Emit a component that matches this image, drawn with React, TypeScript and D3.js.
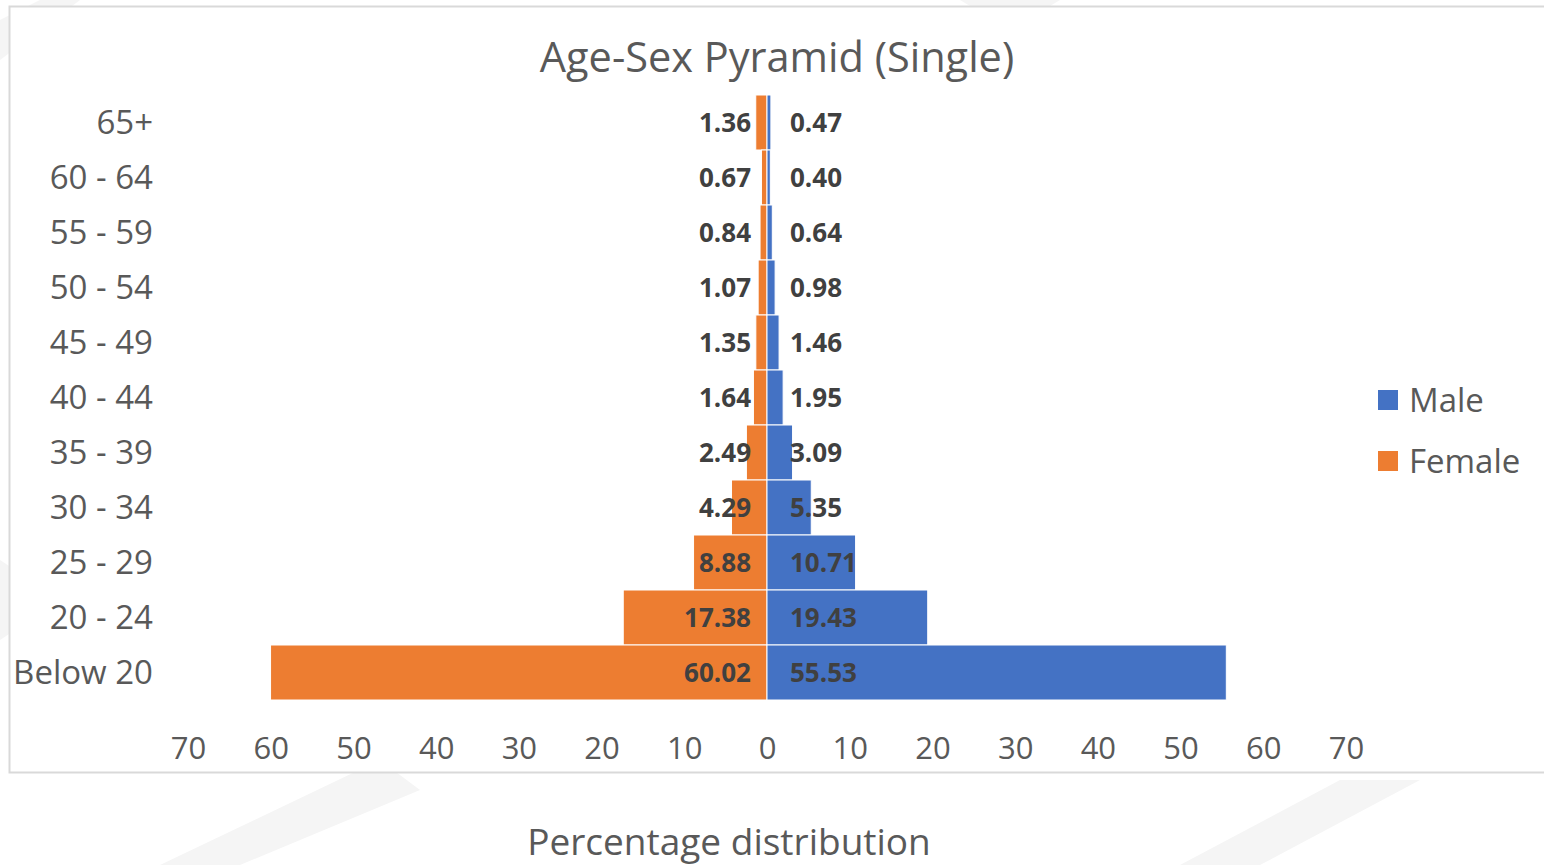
import React, { useEffect, useRef } from "react";
import * as d3 from "d3";

const ageGroups = [
    "65+",
    "60 - 64",
    "55 - 59",
    "50 - 54",
    "45 - 49",
    "40 - 44",
    "35 - 39",
    "30 - 34",
    "25 - 29",
    "20 - 24",
    "Below 20",
];
const maleValues = [0.47, 0.4, 0.64, 0.98, 1.46, 1.95, 3.09, 5.35, 10.71, 19.43, 55.53];
const femaleValues = [1.36, 0.67, 0.84, 1.07, 1.35, 1.64, 2.49, 4.29, 8.88, 17.38, 60.02];
const tickValues = [-70, -60, -50, -40, -30, -20, -10, 0, 10, 20, 30, 40, 50, 60, 70];
const seriesNames = ["Male", "Female"];

const MALE = "#4472c4";
const FEMALE = "#ed7d31";
const TEXT = "#595959";
const FONT = "'Open Sans', sans-serif";

const App = () => {
    const svgRef = useRef<SVGSVGElement>(null);

    useEffect(() => {
        const width = 1544;
        const height = 865;

        d3.select(svgRef.current).selectAll("*").remove();

        const svg = d3
            .select(svgRef.current)
            .attr("width", width)
            .attr("height", height)
            .style("font-family", FONT);

        svg.append("rect")
            .attr("width", width)
            .attr("height", height)
            .attr("fill", "#ffffff");

        // faint background watermark shapes
        const marks = [
            "M0,20 L40,0 L80,0 L0,60 Z",
            "M0,560 L60,600 L0,640 Z",
            "M160,865 L380,760 L420,790 L240,865 Z",
            "M1180,865 L1340,780 L1420,780 L1260,865 Z",
            "M960,0 L1010,30 L1060,0 Z",
        ];
        svg.selectAll("path.wm")
            .data(marks)
            .join("path")
            .attr("class", "wm")
            .attr("d", (d) => d)
            .attr("fill", "#f5f5f5");

        // chart frame
        svg.append("rect")
            .attr("x", 9.5)
            .attr("y", 6.5)
            .attr("width", 1560)
            .attr("height", 766)
            .attr("fill", "#ffffff")
            .attr("stroke", "#d9d9d9")
            .attr("stroke-width", 2);

        const x = d3.scaleLinear().domain([-70, 70]).range([188, 1346]);
        const y = d3
            .scaleBand()
            .domain(ageGroups)
            .range([95, 700])
            .padding(0);

        // title
        svg.append("text")
            .attr("x", 777)
            .attr("y", 72)
            .attr("text-anchor", "middle")
            .attr("font-size", 41.5)
            .attr("fill", TEXT)
            .text("Age-Sex Pyramid (Single)");

        // female bars (left)
        svg.selectAll("rect.female")
            .data(femaleValues)
            .join("rect")
            .attr("class", "female")
            .attr("x", (d) => x(-d))
            .attr("y", (d, i) => y(ageGroups[i]))
            .attr("width", (d) => x(0) - x(-d))
            .attr("height", y.bandwidth())
            .attr("fill", FEMALE)
            .attr("stroke", "#ffffff")
            .attr("stroke-width", 1);

        // male bars (right)
        svg.selectAll("rect.male")
            .data(maleValues)
            .join("rect")
            .attr("class", "male")
            .attr("x", x(0))
            .attr("y", (d, i) => y(ageGroups[i]))
            .attr("width", (d) => x(d) - x(0))
            .attr("height", y.bandwidth())
            .attr("fill", MALE)
            .attr("stroke", "#ffffff")
            .attr("stroke-width", 1);

        // data labels
        svg.selectAll("text.flab")
            .data(femaleValues)
            .join("text")
            .attr("class", "flab")
            .attr("x", x(0) - 16)
            .attr("y", (d, i) => y(ageGroups[i]) + y.bandwidth() / 2 + 9)
            .attr("text-anchor", "end")
            .attr("font-size", 26)
            .attr("font-weight", "bold")
            .attr("fill", "#404040")
            .text((d) => d.toFixed(2));

        svg.selectAll("text.mlab")
            .data(maleValues)
            .join("text")
            .attr("class", "mlab")
            .attr("x", x(0) + 23)
            .attr("y", (d, i) => y(ageGroups[i]) + y.bandwidth() / 2 + 9)
            .attr("text-anchor", "start")
            .attr("font-size", 26)
            .attr("font-weight", "bold")
            .attr("fill", "#404040")
            .text((d) => d.toFixed(2));

        // category axis labels
        svg.selectAll("text.cat")
            .data(ageGroups)
            .join("text")
            .attr("class", "cat")
            .attr("x", 153)
            .attr("y", (d) => y(d) + y.bandwidth() / 2 + 11)
            .attr("text-anchor", "end")
            .attr("font-size", 33)
            .attr("fill", TEXT)
            .text((d) => d);

        // value axis
        const xAxis = svg
            .append("g")
            .attr("transform", "translate(0,730)")
            .call(
                d3
                    .axisBottom(x)
                    .tickValues(tickValues)
                    .tickSize(0)
                    .tickFormat((d) => String(Math.abs(d as number)))
            );
        xAxis.select(".domain").remove();
        xAxis.selectAll("text")
            .attr("font-family", FONT)
            .attr("font-size", 31)
            .attr("fill", TEXT)
            .attr("dy", "0.95em")
            .attr("y", 0);

        // axis title
        svg.append("text")
            .attr("x", 729)
            .attr("y", 855)
            .attr("text-anchor", "middle")
            .attr("font-size", 37)
            .attr("fill", TEXT)
            .text("Percentage distribution");

        // legend
        const legend = svg
            .selectAll("g.leg")
            .data(seriesNames)
            .join("g")
            .attr("class", "leg")
            .attr("transform", (d, i) => `translate(1378,${390 + i * 61})`);
        legend.append("rect")
            .attr("width", 20)
            .attr("height", 20)
            .attr("fill", (d, i) => (i === 0 ? MALE : FEMALE));
        legend.append("text")
            .attr("x", 31)
            .attr("y", 22)
            .attr("font-size", 33)
            .attr("fill", TEXT)
            .text((d) => d);
    }, []);

    return <svg ref={svgRef} style={{ position: "absolute", left: 0, top: 0 }}></svg>;
};

export default App;
